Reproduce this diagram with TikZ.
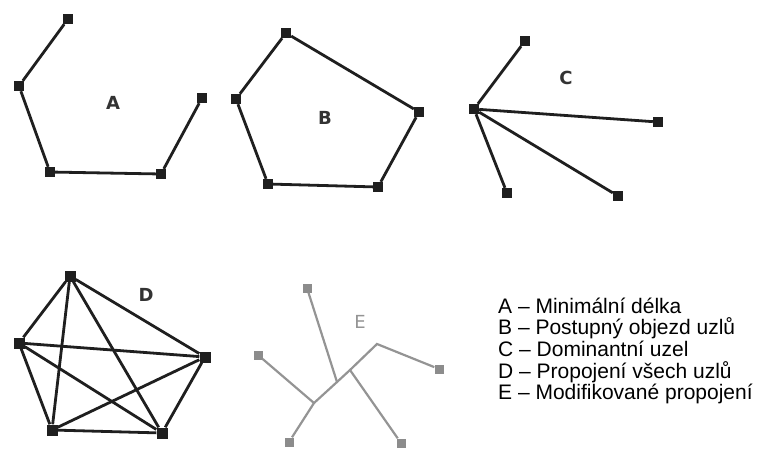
\documentclass[tikz,border=0pt]{standalone}
\usepackage{fontspec}
\setmainfont{Liberation Sans}
\newfontfamily\pismenofont{DejaVu Sans}
\usepackage{tikz}

\tikzset{
  uzel/.style={fill=black!88, minimum size=10pt, inner sep=0pt},
  uzelE/.style={fill=black!45, minimum size=9pt, inner sep=0pt},
  hrana/.style={line width=2.8pt, black!88},
  hranaE/.style={line width=2.2pt, black!42},
  pismeno/.style={font=\pismenofont\bfseries\fontsize{18}{18}\selectfont, text=black!80},
  legenda/.style={anchor=base west, inner sep=0pt, font=\fontsize{21}{21}\selectfont},
}

\begin{document}
\begin{tikzpicture}[x=1pt,y=-1pt]
	\useasboundingbox (0,0) rectangle (760,448);
	% A
	\node[uzel] (a1) at (68,19) {};
	\node[uzel] (a2) at (19,86) {};
	\node[uzel] (a3) at (50,172) {};
	\node[uzel] (a4) at (161,174) {};
	\node[uzel] (a5) at (202,98) {};
	\draw[hrana] (a1) -- (a2) -- (a3) -- (a4) -- (a5);
	\node[pismeno] (popA) at (113,103) {A};
	% B
	\node[uzel] (b1) at (286,33) {};
	\node[uzel] (b2) at (236,99) {};
	\node[uzel] (b3) at (268,184) {};
	\node[uzel] (b4) at (378,187) {};
	\node[uzel] (b5) at (419,112) {};
	\draw[hrana] (b1) -- (b2) -- (b3) -- (b4) -- (b5) -- (b1);
	\node[pismeno] (popB) at (325,118) {B};
	% C
	\node[uzel] (c0) at (474,109) {};
	\node[uzel] (c1) at (525,41) {};
	\node[uzel] (c2) at (658,122) {};
	\node[uzel] (c3) at (507,193) {};
	\node[uzel] (c4) at (618,196) {};
	\foreach \j in {1,...,4}{
		\draw[hrana] (c0) -- (c\j);
	}
	\node[pismeno] (popC) at (566,78) {C};
	% D
	\node[uzel, minimum size=11pt] (d1) at (70,276) {};
	\node[uzel, minimum size=11pt] (d2) at (19,343) {};
	\node[uzel, minimum size=11pt] (d3) at (52,430) {};
	\node[uzel, minimum size=11pt] (d4) at (162,433) {};
	\node[uzel, minimum size=11pt] (d5) at (205,357) {};
	\foreach \i in {1,...,4}{
		\pgfmathtruncatemacro{\k}{\i+1}
		\foreach \j in {\k,...,5}{
			\draw[hrana] (d\i) -- (d\j);
		}
	}
	\node[pismeno] (popD) at (146,295) {D};
	% E
	\node[uzelE] (e1) at (307,288) {};
	\node[uzelE] (e2) at (258,355) {};
	\node[uzelE] (e3) at (289,442) {};
	\node[uzelE] (e4) at (401,443) {};
	\node[uzelE] (e5) at (439,369) {};
	\coordinate (s1) at (314,403);
	\coordinate (s2) at (337,382);
	\coordinate (s3) at (350,370);
	\coordinate (s4) at (377,344);
	\draw[hranaE] (e2) -- (s1) -- (e3);
	\draw[hranaE] (s1) -- (s2) -- (s3) -- (s4) -- (e5);
	\draw[hranaE] (e1) -- (s2);
	\draw[hranaE] (e4) -- (s3);
	\node[pismeno, text=black!42, font=\pismenofont\fontsize{18}{18}\selectfont] (popE) at (360,322) {E};
	% legenda
	\node[legenda] (leg1) at (498,313) {A – Minimální délka};
	\node[legenda] (leg2) at (498,334.7) {B – Postupný objezd uzlů};
	\node[legenda] (leg3) at (498,356.4) {C – Dominantní uzel};
	\node[legenda] (leg4) at (498,378.1) {D – Propojení všech uzlů};
	\node[legenda] (leg5) at (498,399.8) {E – Modifikované propojení};
\end{tikzpicture}
\end{document}
